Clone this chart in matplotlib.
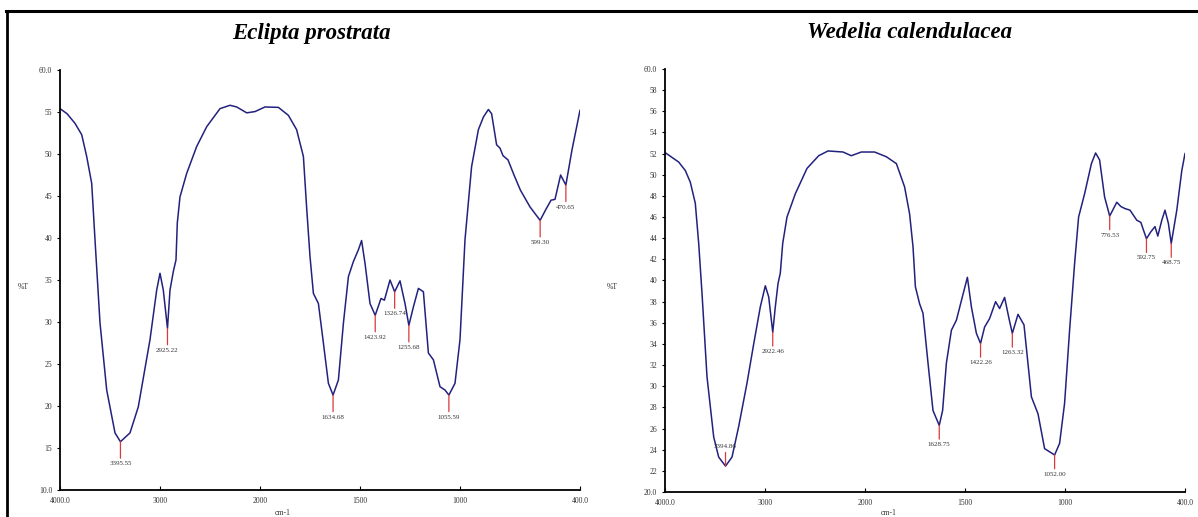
import numpy as np
import matplotlib
matplotlib.use('Agg')
import matplotlib.pyplot as plt
from matplotlib.lines import Line2D

# FTIR spectra (%T vs wavenumber, cm-1)
ep_wavenumber = [4000, 3930, 3850, 3783, 3733, 3683, 3650, 3600, 3533, 3450, 3395.55,
                 3300, 3217, 3100, 3033, 3000, 2967, 2925.22, 2900, 2867, 2840, 2827,
                 2800, 2733, 2633, 2533, 2400, 2300, 2233, 2133, 2050, 1975, 1908,
                 1858, 1817, 1783, 1767, 1750, 1733, 1708, 1683, 1658, 1634.68, 1608,
                 1583, 1558, 1533, 1508, 1492, 1475, 1450, 1423.92, 1395, 1378, 1350,
                 1326.74, 1300, 1275, 1255.68, 1233, 1208, 1183, 1158, 1133, 1100,
                 1075, 1055.59, 1025, 1000, 975, 942, 908, 883, 858, 842, 817, 800,
                 785, 760, 730, 698, 650, 599.30, 573, 545, 525, 497, 470.65, 440, 400]
ep_transmittance = [55.4, 54.8, 53.65, 52.3, 49.7, 46.5, 39.8, 29.9, 21.9, 16.8, 15.75,
                    16.8, 19.9, 27.9, 33.8, 35.8, 33.8, 29.25, 33.8, 36.0, 37.4, 41.8,
                    44.9, 47.7, 50.9, 53.25, 55.4, 55.8, 55.6, 54.9, 55.05, 55.6, 55.55,
                    54.6, 52.9, 49.7, 43.7, 37.8, 33.4, 32.2, 27.5, 22.7, 21.3, 23.1,
                    29.85, 35.4, 37.2, 38.6, 39.7, 37.0, 32.2, 30.8, 32.8, 32.6, 35.0,
                    33.6, 34.9, 32.2, 29.6, 31.8, 34.0, 33.6, 26.3, 25.5, 22.3,
                    21.9, 21.3, 22.7, 27.9, 39.8, 48.5, 52.9, 54.4, 55.3, 54.8, 51.1, 50.7,
                    49.8, 49.3, 47.5, 45.7, 43.7, 42.1, 43.3, 44.5, 44.6, 47.5, 46.3, 50.5, 55.2]

wc_wavenumber = [4000, 3863, 3797, 3747, 3697, 3663, 3630, 3580, 3513, 3463, 3394.86,
                 3330, 3263, 3180, 3113, 3047, 2997, 2963, 2922.46, 2897, 2870, 2847,
                 2823, 2780, 2697, 2580, 2463, 2370, 2220, 2137, 2037, 1952, 1893,
                 1843, 1802, 1777, 1760, 1748, 1727, 1710, 1685, 1660, 1628.75, 1612,
                 1593, 1568, 1543, 1518, 1488, 1468, 1443, 1422.26, 1402, 1377, 1347,
                 1327, 1302, 1280, 1263.32, 1235, 1205, 1168, 1135, 1102, 1077, 1052.00,
                 1027, 1002, 977, 952, 932, 902, 868, 847, 827, 802, 776.53, 741, 721,
                 700, 675, 641, 621, 592.75, 571, 550, 536, 516, 500, 483, 468.75, 441,
                 416, 400]
wc_transmittance = [52.1, 51.2, 50.4, 49.3, 47.3, 43.5, 38.8, 30.9, 25.2, 23.3, 22.45,
                    23.3, 26.2, 30.3, 34.0, 37.5, 39.5, 38.45, 35.1, 37.5, 39.7, 40.7,
                    43.5, 46.0, 48.2, 50.6, 51.8, 52.25, 52.15, 51.8, 52.15, 52.15, 51.7,
                    51.05, 48.85, 46.3, 43.2, 39.4, 37.8, 36.9, 32.2, 27.7, 26.3, 27.7,
                    32.2, 35.3, 36.25, 38.1, 40.3, 37.5, 35.0, 34.05, 35.6, 36.4, 38.0,
                    37.35, 38.4, 36.4, 35.0, 36.8, 35.8, 29.0, 27.4, 24.1, 23.8, 23.5,
                    24.6, 28.4, 35.3, 41.6, 46.0, 48.2, 51.05, 52.06, 51.4, 47.9, 46.1, 47.4, 47.0,
                    46.8, 46.65, 45.7, 45.5, 43.95, 44.6, 45.1, 44.2, 45.7, 46.65, 45.4, 43.5, 46.65,
                    50.4, 52.0]

ep_peaks = [3395.55, 2925.22, 1634.68, 1423.92, 1326.74, 1255.68, 1055.59, 599.30, 470.65]
ep_peak_labels = ['3395.55', '2925.22', '1634.68', '1423.92', '1326.74', '1255.68',
                  '1055.59', '599.30', '470.65']
wc_peaks = [3394.86, 2922.46, 1628.75, 1422.26, 1263.32, 1052.00, 776.53, 592.75, 468.75]
wc_peak_labels = ['3394.86', '2922.46', '1628.75', '1422.26', '1263.32', '1052.00',
                  '776.53', '592.75', '468.75']

x_ticks = [4000, 3000, 2000, 1500, 1000, 400]
x_tick_labels = ['4000.0', '3000', '2000', '1500', '1000', '400.0']

LINE = '#22227e'
RED = '#d83a3a'
SERIF = 'Liberation Serif'


# 4000-2000 region drawn at half scale, like the instrument output
def fwd(x):
    x = np.asarray(x, dtype=float)
    return np.where(x > 2000, 2000 + (x - 2000) / 2.0, x)


def inv(y):
    y = np.asarray(y, dtype=float)
    return np.where(y > 2000, 2000 + (y - 2000) * 2.0, y)


def draw_spectrum(ax, wn, tr, peaks, labels, ymin, ystep, line_pt, above=()):
    ax.plot(wn, tr, color=LINE, lw=1.1)
    ax.set_xscale('function', functions=(fwd, inv))
    ax.set_xlim(4000, 400)
    ax.set_ylim(ymin, 60)
    ax.set_xticks(x_ticks)
    ax.set_xticklabels(x_tick_labels)
    yt = np.arange(ymin, 60.01, ystep)
    ax.set_yticks(yt)
    ylabels = ['%d' % v for v in yt]
    ylabels[0] = '%.1f' % yt[0]
    ylabels[-1] = '%.1f' % yt[-1]
    ax.set_yticklabels(ylabels)
    for s in ['top', 'right']:
        ax.spines[s].set_visible(False)
    for s in ['left', 'bottom']:
        ax.spines[s].set_linewidth(1.3)
    ax.tick_params(axis='y', direction='out', length=2.5, width=0.8, pad=3, labelsize=5.5)
    ax.tick_params(axis='x', direction='in', length=3, width=0.8, pad=5, labelsize=5.5)
    for lab in ax.get_xticklabels() + ax.get_yticklabels():
        lab.set_family(SERIF)
        lab.set_color('#333333')

    for p, lab in zip(peaks, labels):
        t = np.interp(p, wn[::-1], tr[::-1])
        sign = 1 if lab in above else -1
        ax.annotate('', xy=(p, t), xycoords='data',
                    xytext=(0, sign * line_pt), textcoords='offset points',
                    arrowprops=dict(arrowstyle='-', color=RED, lw=0.9,
                                    shrinkA=0.6, shrinkB=0))
        ax.annotate(lab, xy=(p, t), xycoords='data',
                    xytext=(0, sign * (line_pt + 1.5)), textcoords='offset points',
                    ha='center', va='bottom' if sign > 0 else 'top',
                    fontsize=5, family=SERIF, color='#333333')


fig = plt.figure(figsize=(11.98, 5.17), dpi=100)

ax1 = fig.add_axes([60 / 1198, 27 / 517, 520 / 1198, 420 / 517])
draw_spectrum(ax1, np.array(ep_wavenumber), np.array(ep_transmittance),
              ep_peaks, ep_peak_labels, 10, 5, 12.5)

ax2 = fig.add_axes([665 / 1198, 25 / 517, 520 / 1198, 423 / 517])
draw_spectrum(ax2, np.array(wc_wavenumber), np.array(wc_transmittance),
              wc_peaks, wc_peak_labels, 20, 2, 10.5, above=('3394.86',))

fig.text(311 / 1198, 1 - 33 / 517, 'Eclipta prostrata', ha='center', va='center',
         fontsize=16.5, family=SERIF, weight='bold', style='italic')
fig.text(910 / 1198, 1 - 33 / 517, 'Wedelia calendulacea', ha='center', va='center',
         fontsize=16.5, family=SERIF, weight='bold', style='italic')

for xpos in (23, 612):
    fig.text(xpos / 1198, 1 - 287 / 517, '%T', ha='center', va='center',
             fontsize=5.5, family=SERIF, color='#333333')
for xpos in (283, 889):
    fig.text(xpos / 1198, 1 - 513 / 517, 'cm-1', ha='center', va='center',
             fontsize=5.5, family=SERIF, color='#333333')

# frame lines along the top and left edges
fig.add_artist(Line2D([6 / 1198, 1], [1 - 11 / 517, 1 - 11 / 517], color='black', lw=2.2,
                      transform=fig.transFigure))
fig.add_artist(Line2D([7 / 1198, 7 / 1198], [0, 1 - 11 / 517], color='black', lw=2.0,
                      transform=fig.transFigure))

fig.savefig('out.png', dpi=100, facecolor='white')
